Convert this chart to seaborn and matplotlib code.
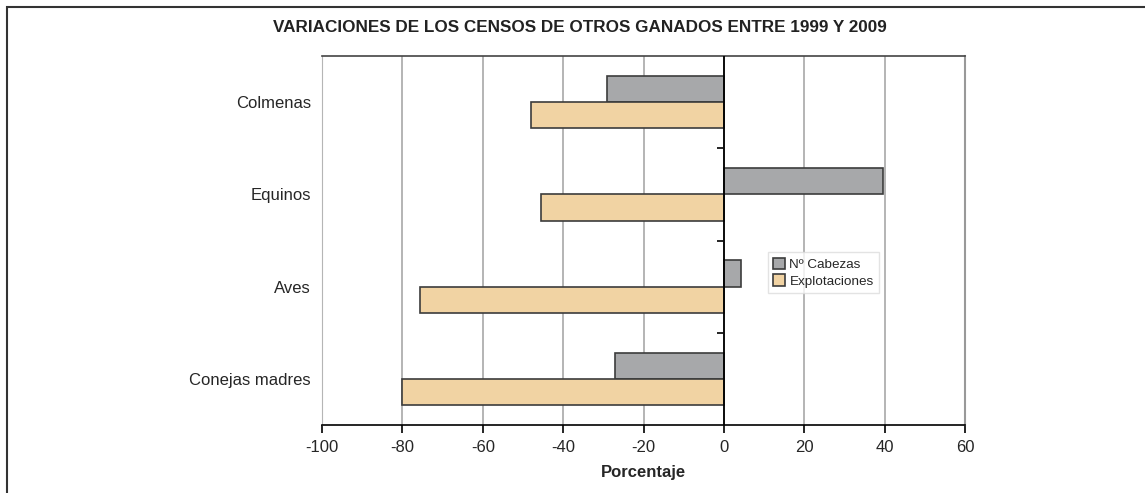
import matplotlib
matplotlib.use("Agg")
import matplotlib.pyplot as plt
import matplotlib.patches as mpatches
import pandas as pd
import seaborn as sns

# Data
categorias = ["Colmenas", "Equinos", "Aves", "Conejas madres"]
cabezas = [-29, 39.5, 4.2, -27]
explotaciones = [-48, -45.5, -75.5, -80]
series = ["Nº Cabezas", "Explotaciones"]
colores = ["#a7a8aa", "#f1d3a3"]
xticks = [-100, -80, -60, -40, -20, 0, 20, 40, 60]

df = pd.DataFrame({
    "Categoria": categorias * 2,
    "Serie": [series[0]] * len(categorias) + [series[1]] * len(categorias),
    "Valor": cabezas + explotaciones,
})

sns.set_style("white")
plt.rcParams["font.family"] = ["Liberation Sans", "DejaVu Sans"]

fig = plt.figure(figsize=(11.45, 4.93), dpi=100)
ax = fig.add_axes([322 / 1145, 1 - 425 / 493, (965 - 322) / 1145, (425 - 56) / 493])

sns.barplot(data=df, y="Categoria", x="Valor", hue="Serie", orient="h",
            palette=colores, width=0.57, edgecolor="#3c3c3c", linewidth=1.2,
            saturation=1, ax=ax, zorder=3)

ax.set_xlim(-100, 60)
ax.set_xticks(xticks)
ax.set_xticklabels([str(t) for t in xticks], fontsize=12)
ax.grid(axis="x", color="#a8a8a8", linewidth=1.2, zorder=0)
ax.set_axisbelow(True)

ax.set_ylabel("")
ax.set_xlabel("Porcentaje", fontsize=12, fontweight="bold", labelpad=7)
ax.tick_params(axis="y", length=0, labelsize=12, pad=8)
ax.tick_params(axis="x", direction="out", length=6, width=1.2, color="black", bottom=True, pad=5)

ax.spines["bottom"].set_color("black")
ax.spines["bottom"].set_linewidth(1.2)
ax.spines["top"].set_color("#444444")
ax.spines["top"].set_linewidth(1.2)
ax.spines["left"].set_color("#b5b5b5")
ax.spines["right"].set_color("#999999")
ax.spines["right"].set_linewidth(1.5)

# zero line with small ticks between categories
ax.axvline(0, color="black", linewidth=1.3, zorder=4)
zero_frac = (0 - xticks[0]) / (xticks[-1] - xticks[0])
sec = ax.secondary_yaxis(zero_frac)
sec.set_yticks([0.5, 1.5, 2.5])
sec.set_yticklabels([])
sec.tick_params(direction="in", length=5, width=1.2, color="black")
for s in sec.spines.values():
    s.set_visible(False)

leg = ax.legend(loc="upper left", bbox_to_anchor=(0.683, 0.486), fontsize=9.7,
                frameon=True, fancybox=False, handlelength=0.9, handleheight=0.9,
                handletextpad=0.3, borderpad=0.4, labelspacing=0.25)
leg.get_frame().set_edgecolor("#dddddd")
leg.get_frame().set_linewidth(1.0)

fig.text(580 / 1145, 1 - 27 / 493, "VARIACIONES DE LOS CENSOS DE OTROS GANADOS ENTRE 1999 Y 2009",
         ha="center", va="center", fontsize=12.3, fontweight="bold", color="#222222")

# outer frame (left and top edges visible)
frame = mpatches.Rectangle((7 / 1145, -0.1), 1.1, 1.1 - 7 / 493, transform=fig.transFigure,
                           fill=False, edgecolor="#333333", linewidth=1.5, clip_on=False)
fig.patches.append(frame)

fig.savefig("out.png", dpi=100, facecolor="white")
